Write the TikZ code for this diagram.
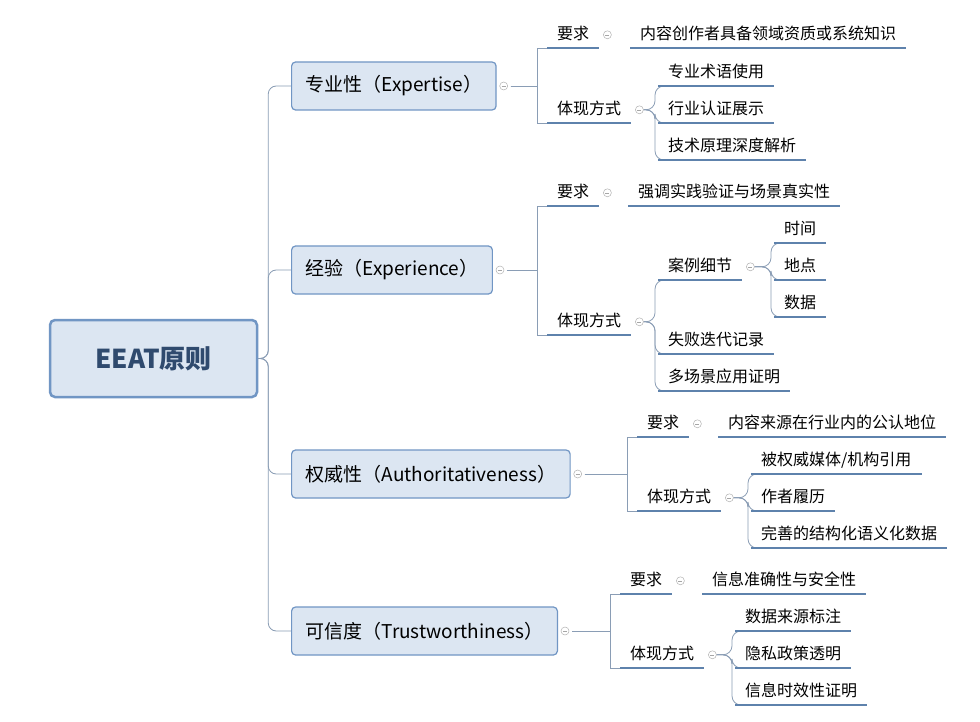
\documentclass[tikz,border=0pt]{standalone}
\usepackage{fontspec}
\setmainfont{Noto Sans CJK SC}
\usetikzlibrary{calc}
\definecolor{lineblue}{HTML}{8A9DB5}
\definecolor{ulblue}{HTML}{5E82AC}
\definecolor{boxfill}{HTML}{DCE6F2}
\definecolor{boxdraw}{HTML}{7196C4}
\definecolor{roottext}{HTML}{2F4A6E}
\tikzset{
  rootbox/.style={draw=boxdraw, line width=2.5pt, fill=boxfill, rounded corners=5pt,
    minimum width=207pt, minimum height=77pt, font=\fontsize{26}{30}\selectfont\bfseries, text=roottext},
  topicbox/.style={draw=boxdraw, line width=1.2pt, fill=boxfill, rounded corners=4pt,
    minimum height=48pt, inner xsep=14pt, anchor=west, font=\fontsize{19}{22}\selectfont},
  leaf/.style={anchor=south west, inner xsep=10pt, inner ysep=5pt, text height=13pt,
    text depth=3pt, font=\fontsize{16}{18}\selectfont},
  uline/.style={ulblue, line width=2pt},
  conn/.style={lineblue, line width=0.8pt},
  fold/.style={circle, draw=gray!60, fill=white, line width=0.5pt, minimum size=8pt, inner sep=0pt}
}
\newcommand{\foldmark}[1]{\node[fold] at (#1) {};\draw[gray!70, line width=0.5pt] ($(#1)+(-2,0)$) -- ($(#1)+(2,0)$);}
\begin{document}
\begin{tikzpicture}[x=1pt,y=-1pt]
\useasboundingbox[fill=white] (0,0) rectangle (980,722);
% root and topics
\node[rootbox] (root) at (153.5,358.5) {EEAT原则};
\node[topicbox] (exp) at (291,86) {专业性（Expertise）};
\node[topicbox] (xp) at (291,270) {经验（Experience）};
\node[topicbox] (auth) at (291,474) {权威性（Authoritativeness）};
\node[topicbox] (trust) at (291,631) {可信度（Trustworthiness）};
\foreach \t in {exp,xp,auth,trust}
  \draw[conn, rounded corners=8pt] (root.east) -- ++(10,0) |- (\t.west);
% expertise
\node[leaf] (expreq) at (547,48) {要求};
\node[leaf] (expreqa) at (630,48) {内容创作者具备领域资质或系统知识};
\node[leaf] (expway) at (547,123) {体现方式};
\node[leaf] (expw1) at (658,86) {专业术语使用};
\node[leaf] (expw2) at (658,123) {行业认证展示};
\node[leaf] (expw3) at (658,160) {技术原理深度解析};
% experience
\node[leaf] (xpreq) at (547,206) {要求};
\node[leaf] (xpreqa) at (628,206) {强调实践验证与场景真实性};
\node[leaf] (xpway) at (547,335) {体现方式};
\node[leaf] (xpw1) at (658,280) {案例细节};
\node[leaf] (xpw2) at (658,354) {失败迭代记录};
\node[leaf] (xpw3) at (658,391) {多场景应用证明};
\node[leaf] (xpd1) at (774,243) {时间};
\node[leaf] (xpd2) at (774,280) {地点};
\node[leaf] (xpd3) at (774,317) {数据};
% authoritativeness
\node[leaf] (authreq) at (637,437) {要求};
\node[leaf] (authreqa) at (718,437) {内容来源在行业内的公认地位};
\node[leaf] (authway) at (637,511) {体现方式};
\node[leaf] (authw1) at (751,474) {被权威媒体/机构引用};
\node[leaf] (authw2) at (751,511) {作者履历};
\node[leaf] (authw3) at (751,548) {完善的结构化语义化数据};
% trustworthiness
\node[leaf] (trustreq) at (620,594) {要求};
\node[leaf] (trustreqa) at (702,594) {信息准确性与安全性};
\node[leaf] (trustway) at (620,668) {体现方式};
\node[leaf] (trustw1) at (735,631) {数据来源标注};
\node[leaf] (trustw2) at (735,668) {隐私政策透明};
\node[leaf] (trustw3) at (735,705) {信息时效性证明};
% topic to second level
\foreach \p/\c in {exp/expreq,exp/expway,xp/xpreq,xp/xpway,auth/authreq,auth/authway,trust/trustreq,trust/trustway}
  \draw[conn] ([xshift=14pt]\p.east) -| ([xshift=-10pt]\c.south west) -- (\c.south west);
% curved brackets
\foreach \p/\c in {expway/expw1,expway/expw2,expway/expw3,xpway/xpw1,xpway/xpw2,xpway/xpw3,
    xpw1/xpd1,xpw1/xpd2,xpw1/xpd3,authway/authw1,authway/authw2,authway/authw3,
    trustway/trustw1,trustway/trustw2,trustway/trustw3}
  \draw[conn, rounded corners=9pt] ([xshift=12pt]\p.east) -| ([xshift=-3pt]\c.south west) -- (\c.south west);
% underlines
\foreach \n in {expreq,expreqa,expway,expw1,expw2,expw3,xpreq,xpreqa,xpway,xpw1,xpw2,xpw3,xpd1,xpd2,xpd3,
    authreq,authreqa,authway,authw1,authw2,authw3,trustreq,trustreqa,trustway,trustw1,trustw2,trustw3}
  \draw[uline] (\n.south west) -- (\n.south east);
% collapse marks
\foreach \n in {exp,xp,auth,trust}{\foldmark{[xshift=7pt]\n.east}}
\foreach \n in {expreq,expway,xpreq,xpway,xpw1,authreq,authway,trustreq,trustway}{\foldmark{[xshift=8pt]\n.east}}
\end{tikzpicture}
\end{document}
